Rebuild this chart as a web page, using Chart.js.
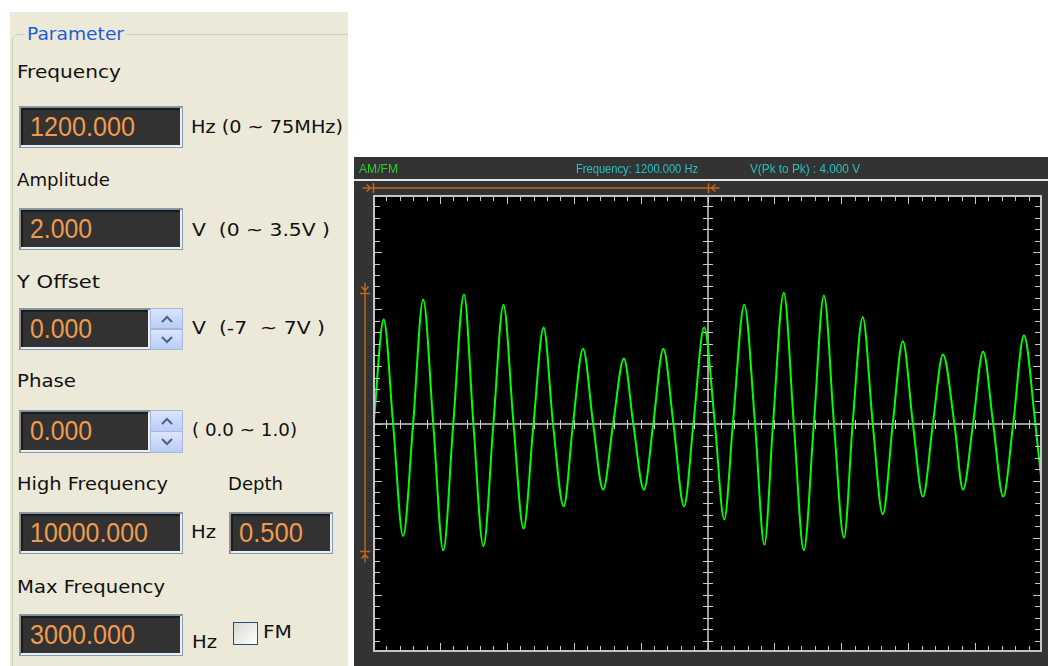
<!DOCTYPE html>
<html>
<head>
<meta charset="utf-8">
<script src="https://cdn.jsdelivr.net/npm/chart.js@4/dist/chart.umd.min.js"></script>
<style>
  html, body { margin: 0; padding: 0; background: #fff; }
  body { width: 1048px; height: 666px; position: relative; overflow: hidden; }
  #panel { position: absolute; left: 10px; top: 12px; width: 338px; height: 654px; background: #ece9d8; overflow: hidden; }
  #group { position: absolute; left: 2px; top: 22px; width: 420px; height: 700px; border: 1px solid #d0d0bf; border-radius: 5px; }
  .t { position: absolute; white-space: pre; line-height: 1; transform-origin: 0 50%; }
  .box { position: absolute; box-sizing: border-box; border: 1px solid #7f9db9; background: #323232;
         box-shadow: inset 1px 1px 0 #8c8c8c, inset -2px -2px 0 #eeeeee, inset 3px 3px 0 #1c1c1c; }
  .spin { position: absolute; box-sizing: border-box; width: 33px; border: 1px solid #a6b8de;
          background: linear-gradient(#dbe5fd, #b9cdf7); }
  .spin svg { position: absolute; left: 10px; }
  #fm { position: absolute; left: 233px; top: 622px; width: 25px; height: 23px; box-sizing: border-box;
        border: 1px solid #1c5180; background: linear-gradient(135deg, #d8d8d2, #ffffff); }
  #scope { position: absolute; left: 354px; top: 157px; }
</style>
</head>
<body>
<div id="panel"><div id="group"></div></div>

<div class="box" style="left:19px;top:106px;width:164px;height:42px"></div>
<div class="box" style="left:19px;top:208px;width:164px;height:42px"></div>
<div class="box" style="left:19px;top:308px;width:132px;height:42px"></div>
<div class="spin" style="left:150px;top:308px;height:21px"><svg width="12" height="8" style="top:6px"><polyline points="1,7 6,2 11,7" fill="none" stroke="#4d6185" stroke-width="2"/></svg></div>
<div class="spin" style="left:150px;top:329px;height:21px"><svg width="12" height="8" style="top:6px"><polyline points="1,1 6,6 11,1" fill="none" stroke="#4d6185" stroke-width="2"/></svg></div>
<div class="box" style="left:19px;top:410px;width:132px;height:43px"></div>
<div class="spin" style="left:150px;top:410px;height:22px"><svg width="12" height="8" style="top:6px"><polyline points="1,7 6,2 11,7" fill="none" stroke="#4d6185" stroke-width="2"/></svg></div>
<div class="spin" style="left:150px;top:431px;height:22px"><svg width="12" height="8" style="top:6px"><polyline points="1,1 6,6 11,1" fill="none" stroke="#4d6185" stroke-width="2"/></svg></div>
<div class="box" style="left:19px;top:512px;width:164px;height:42px"></div>
<div class="box" style="left:229px;top:512px;width:104px;height:42px"></div>
<div class="box" style="left:19px;top:614px;width:164px;height:42px"></div>
<div id="fm"></div>

<canvas id="scope" width="694" height="509"></canvas>

<script>
// Scope trace: time in divisions (0..10), voltage in divisions (0 = centre line)
const crossTimes = [0.01, 0.30, 0.60, 0.90, 1.20, 1.50, 1.80, 2.10, 2.40, 2.69, 2.99, 3.29, 3.59, 3.89, 4.19, 4.49, 4.79,
                    5.11, 5.38, 5.71, 5.98, 6.29, 6.59, 6.89, 7.17, 7.47, 7.77, 8.07, 8.37, 8.69, 8.97, 9.27, 9.57, 9.90];
const peakTimes = [0.16, 0.75, 1.36, 1.95, 2.55, 3.14, 3.75, 4.34, 4.95, 5.55, 6.14, 6.74, 7.32, 7.92, 8.52, 9.12, 9.73];
const peakVolts = [1.82, 2.17, 2.26, 2.08, 1.68, 1.31, 1.14, 1.31, 1.68, 2.08, 2.29, 2.24, 1.86, 1.44, 1.21, 1.26, 1.54];
const troughTimes = [0.45, 1.05, 1.65, 2.25, 2.85, 3.44, 4.05, 4.65, 5.25, 5.85, 6.44, 7.04, 7.62, 8.22, 8.82, 9.42, 10.04];
const troughVolts = [-1.97, -2.22, -2.15, -1.84, -1.45, -1.16, -1.16, -1.45, -1.68, -2.12, -2.22, -2.00, -1.59, -1.28, -1.16, -1.28, -1.54];

// cursor markers (orange)
const cursorTimes = [0, 5];
const cursorVolts = [2.28, -2.24];

// screen grid: 10 x 8 divisions, 5 minor ticks each
const xDivs = 10, yDivs = 8, minorPerDiv = 5;

// build the trace in time order
const tracePoints = [];
crossTimes.forEach(t => tracePoints.push({ x: t, y: 0 }));
peakTimes.forEach((t, i) => tracePoints.push({ x: t, y: peakVolts[i] }));
troughTimes.forEach((t, i) => tracePoints.push({ x: t, y: troughVolts[i] }));
tracePoints.sort((a, b) => a.x - b.x);

// text helper: x = left edge, base = baseline, w = target width
function addText(str, x, base, w, size, color, family, bg) {
    const el = document.createElement('div');
    el.className = 't';
    el.textContent = str;
    el.style.left = x + 'px';
    el.style.top = (base - 0.846 * size) + 'px';
    el.style.fontSize = size + 'px';
    el.style.color = color;
    el.style.fontFamily = family;
    if (bg) { el.style.background = bg; el.style.padding = '0 2px'; el.style.marginLeft = '-2px'; }
    document.body.appendChild(el);
    const natural = el.getBoundingClientRect().width - (bg ? 4 : 0);
    el.style.transform = 'scaleX(' + (w / natural) + ')';
    return el;
}

const label = '"DejaVu Sans", sans-serif';
const digits = '"Liberation Sans", Arial, sans-serif';
const orange = '#f09a4e';

addText('Parameter', 27, 40.5, 97, 18.5, '#1c5fd6', label, '#ece9d8');
addText('Frequency', 17, 78.5, 104, 18.5, '#111', label);
addText('Amplitude', 17, 186.5, 93, 18.5, '#111', label);
addText('Y Offset', 17, 289, 83, 18.5, '#111', label);
addText('Phase', 17, 387.5, 59, 18.5, '#111', label);
addText('High Frequency', 17, 490.5, 151, 18.5, '#111', label);
addText('Depth', 228, 490.5, 55, 18.5, '#111', label);
addText('Max Frequency', 17, 594, 148, 18.5, '#111', label);

addText('Hz (0 ~ 75MHz)', 191, 134, 152, 18.5, '#111', label);
addText('V  (0 ~ 3.5V )', 192, 236.5, 138, 18.5, '#111', label);
addText('V  (-7  ~ 7V )', 192, 335, 133, 18.5, '#111', label);
addText('( 0.0 ~ 1.0)', 192, 437, 105, 18.5, '#111', label);
addText('Hz', 191, 539, 25, 18.5, '#111', label);
addText('Hz', 192, 649, 25, 18.5, '#111', label);
addText('FM', 263, 639, 29, 18.5, '#111', label);

addText('1200.000', 30, 137, 105, 28, orange, digits);
addText('2.000', 30, 239, 62, 28, orange, digits);
addText('0.000', 30, 339, 62, 28, orange, digits);
addText('0.000', 30, 441, 62, 28, orange, digits);
addText('10000.000', 30, 543, 118, 28, orange, digits);
addText('0.500', 239, 543, 64, 28, orange, digits);
addText('3000.000', 30, 645, 105, 28, orange, digits);

addText('AM/FM', 359, 172.5, 39, 13, '#2ccc2c', digits);
addText('Frequency: 1200.000 Hz', 576, 172.5, 122, 13, '#22c3c3', digits);
addText('V(Pk to Pk) : 4.000 V', 750, 172.5, 110, 13, '#22c3c3', digits);

const cursorColor = '#c0661c';

const scopePlugin = {
    id: 'scope',
    beforeDraw(chart) {
        const { ctx, chartArea: a, width, height } = chart;
        ctx.save();
        ctx.fillStyle = '#333333';
        ctx.fillRect(0, 0, width, height);
        ctx.fillStyle = '#e4e4e4';
        ctx.fillRect(0, 22, width, 2);
        ctx.fillStyle = '#000';
        ctx.fillRect(a.left, a.top, a.right - a.left, a.bottom - a.top);
        ctx.restore();
    },
    beforeDatasetsDraw(chart) {
        // centre cross with its ticks
        const { ctx, scales: { x, y } } = chart;
        const a = chart.chartArea;
        const x0 = Math.round(x.getPixelForValue((x.min + x.max) / 2));
        const y0 = Math.round(y.getPixelForValue(0));
        ctx.save();
        ctx.strokeStyle = '#9a9a9a';
        ctx.lineWidth = 2;
        ctx.beginPath();
        ctx.moveTo(a.left, y0); ctx.lineTo(a.right, y0);
        ctx.moveTo(x0, a.top); ctx.lineTo(x0, a.bottom);
        ctx.stroke();
        ctx.strokeStyle = '#cfcfcf';
        ctx.lineWidth = 1;
        ctx.beginPath();
        for (let i = 1; i < xDivs * minorPerDiv; i++) {
            const px = Math.round(x.getPixelForValue(i / minorPerDiv)) + 0.5;
            ctx.moveTo(px, y0 - 4); ctx.lineTo(px, y0 + 5);
        }
        for (let j = 1; j < yDivs * minorPerDiv; j++) {
            const py = Math.round(y.getPixelForValue(-yDivs / 2 + j / minorPerDiv)) + 0.5;
            ctx.moveTo(x0 - 5, py); ctx.lineTo(x0 + 5, py);
        }
        ctx.stroke();
        ctx.restore();
    },
    afterDatasetsDraw(chart) {
        const { ctx, scales: { x, y } } = chart;
        const a = chart.chartArea;
        ctx.save();
        // edge ticks
        ctx.strokeStyle = '#c8c8c8';
        ctx.lineWidth = 1;
        ctx.beginPath();
        for (let i = 1; i < xDivs * minorPerDiv; i++) {
            const px = Math.round(x.getPixelForValue(i / minorPerDiv)) + 0.5;
            const len = i % minorPerDiv === 0 ? 7 : 4;
            ctx.moveTo(px, a.top + 2); ctx.lineTo(px, a.top + 2 + len);
            ctx.moveTo(px, a.bottom - 2); ctx.lineTo(px, a.bottom - 2 - len);
        }
        for (let j = 1; j < yDivs * minorPerDiv; j++) {
            const py = Math.round(y.getPixelForValue(-yDivs / 2 + j / minorPerDiv)) + 0.5;
            const len = j % minorPerDiv === 0 ? 7 : 5;
            ctx.moveTo(a.left + 2, py); ctx.lineTo(a.left + 2 + len, py);
            ctx.moveTo(a.right - 2, py); ctx.lineTo(a.right - 2 - len, py);
        }
        ctx.stroke();
        // frame
        ctx.strokeStyle = '#c4c4c4';
        ctx.lineWidth = 2;
        ctx.strokeRect(a.left + 1, a.top + 1, a.right - a.left - 2, a.bottom - a.top - 2);
        ctx.restore();
    },
    afterDraw(chart) {
        // orange cursor markers
        const { ctx, scales: { x, y } } = chart;
        const a = chart.chartArea;
        const t0 = Math.round(x.getPixelForValue(cursorTimes[0])) + 0.5;
        const t1 = Math.round(x.getPixelForValue(cursorTimes[1])) + 0.5;
        const ty = a.top - 7;
        const v0 = Math.round(y.getPixelForValue(cursorVolts[0])) + 0.5;
        const v1 = Math.round(y.getPixelForValue(cursorVolts[1])) + 0.5;
        const vx = a.left - 8;
        ctx.save();
        ctx.strokeStyle = cursorColor;
        ctx.lineWidth = 1.5;
        ctx.beginPath();
        ctx.moveTo(t0 - 11, ty); ctx.lineTo(t1 + 11, ty);
        ctx.moveTo(t0, ty - 5); ctx.lineTo(t0, ty + 5);
        ctx.moveTo(t1, ty - 5); ctx.lineTo(t1, ty + 5);
        ctx.moveTo(t0 - 7, ty - 3.5); ctx.lineTo(t0 - 3, ty); ctx.lineTo(t0 - 7, ty + 3.5);
        ctx.moveTo(t1 + 7, ty - 3.5); ctx.lineTo(t1 + 3, ty); ctx.lineTo(t1 + 7, ty + 3.5);

        ctx.moveTo(vx, v0 - 11); ctx.lineTo(vx, v1 + 11);
        ctx.moveTo(vx - 5, v0); ctx.lineTo(vx + 5, v0);
        ctx.moveTo(vx - 5, v1); ctx.lineTo(vx + 5, v1);
        ctx.moveTo(vx - 3.5, v0 - 7); ctx.lineTo(vx, v0 - 3); ctx.lineTo(vx + 3.5, v0 - 7);
        ctx.moveTo(vx - 3.5, v1 + 7); ctx.lineTo(vx, v1 + 3); ctx.lineTo(vx + 3.5, v1 + 7);
        ctx.stroke();
        ctx.restore();
    }
};

new Chart(document.getElementById('scope'), {
    type: 'line',
    data: {
        datasets: [{
            label: 'AM/FM',
            data: tracePoints,
            borderColor: '#00ff00',
            borderWidth: 2,
            pointRadius: 0,
            fill: false,
            cubicInterpolationMode: 'monotone'
        }]
    },
    options: {
        responsive: false,
        animation: false,
        events: [],
        layout: { padding: { left: 19, right: 6, top: 38, bottom: 14 } },
        scales: {
            x: { type: 'linear', min: 0, max: xDivs, display: false },
            y: { min: -yDivs / 2, max: yDivs / 2, display: false }
        },
        plugins: { legend: { display: false }, tooltip: { enabled: false } }
    },
    plugins: [scopePlugin]
});
</script>
</body>
</html>
